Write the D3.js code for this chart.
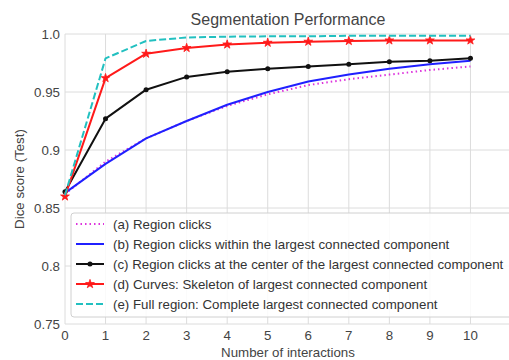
<!DOCTYPE html>
<html>
<head>
<meta charset="utf-8">
<script src="https://cdn.jsdelivr.net/npm/d3@7"></script>
<style>
  body { margin: 0; background: #fff; }
  svg { font-family: "Liberation Sans", Arial, sans-serif; }
</style>
</head>
<body>
<svg id="chart" width="509" height="360"></svg>
<script>
// interactions on the x axis
var interactions = [0, 1, 2, 3, 4, 5, 6, 7, 8, 9, 10];

// dice scores
var regionClicks    = [0.862, 0.890, 0.910, 0.925, 0.938, 0.948, 0.956, 0.961, 0.965, 0.969, 0.972];
var regionLargest   = [0.863, 0.888, 0.910, 0.925, 0.939, 0.950, 0.959, 0.965, 0.970, 0.974, 0.977];
var regionCenter    = [0.864, 0.927, 0.952, 0.963, 0.9675, 0.970, 0.972, 0.974, 0.976, 0.977, 0.979];
var curvesSkeleton  = [0.860, 0.962, 0.983, 0.988, 0.991, 0.9925, 0.9934, 0.994, 0.9945, 0.9945, 0.9945];
var fullRegion      = [0.861, 0.979, 0.994, 0.997, 0.9977, 0.998, 0.998, 0.9985, 0.9985, 0.9985, 0.9985];

var xTicks = [0, 1, 2, 3, 4, 5, 6, 7, 8, 9, 10];
var yTicks = [0.75, 0.8, 0.85, 0.9, 0.95, 1.0];
var yTickLabels = ['0.75', '0.8', '0.85', '0.9', '0.95', '1.0'];

var seriesNames = [
  '(a) Region clicks',
  '(b) Region clicks within the largest connected component',
  '(c) Region clicks at the center of the largest connected component',
  '(d) Curves: Skeleton of largest connected component',
  '(e) Full region: Complete largest connected component'
];

var series = [
  {name: seriesNames[0], values: regionClicks,   color: '#dd33dd', dash: '1.5,3', width: 2, marker: null},
  {name: seriesNames[1], values: regionLargest,  color: '#2020ff', dash: null,    width: 2, marker: null},
  {name: seriesNames[2], values: regionCenter,   color: '#111111', dash: null,    width: 2, marker: 'dot'},
  {name: seriesNames[3], values: curvesSkeleton, color: '#ff1a1a', dash: null,    width: 2, marker: 'star'},
  {name: seriesNames[4], values: fullRegion,     color: '#22c0c0', dash: '7,3',   width: 2, marker: null}
];

var svg = d3.select('#chart');
var margin = {left: 65, right: -2, top: 34, bottom: 36};
var W = 509, H = 360;

var x = d3.scaleLinear().domain([0, 11]).range([margin.left, W - margin.right]);
var y = d3.scaleLinear().domain([0.75, 1.0]).range([H - margin.bottom, margin.top]);

var textColor = '#444';
var gridColor = '#dcdcdc';
var fs = '13.3px';

// grid
svg.append('g').selectAll('line.gx')
  .data(xTicks).enter().append('line')
  .attr('x1', function(d) { return x(d); }).attr('x2', function(d) { return x(d); })
  .attr('y1', y(0.75)).attr('y2', y(1.0))
  .attr('stroke', gridColor).attr('stroke-width', 1);

svg.append('g').selectAll('line.gy')
  .data(yTicks).enter().append('line')
  .attr('x1', x(0)).attr('x2', x(11))
  .attr('y1', function(d) { return y(d); }).attr('y2', function(d) { return y(d); })
  .attr('stroke', gridColor).attr('stroke-width', 1);

// tick labels
svg.append('g').selectAll('text')
  .data(xTicks).enter().append('text')
  .attr('x', function(d) { return x(d); })
  .attr('y', y(0.75) + 16)
  .attr('text-anchor', 'middle')
  .attr('font-size', fs)
  .attr('fill', textColor)
  .text(function(d) { return d; });

svg.append('g').selectAll('text')
  .data(yTicks).enter().append('text')
  .attr('x', x(0) - 5)
  .attr('y', function(d) { return y(d) + 5; })
  .attr('text-anchor', 'end')
  .attr('font-size', fs)
  .attr('fill', textColor)
  .text(function(d, i) { return yTickLabels[i]; });

// title and axis labels
svg.append('text')
  .attr('x', (x(0) + x(11)) / 2).attr('y', 25)
  .attr('text-anchor', 'middle')
  .attr('font-size', '16px')
  .attr('fill', textColor)
  .text('Segmentation Performance');

svg.append('text')
  .attr('x', (x(0) + x(11)) / 2).attr('y', 357)
  .attr('text-anchor', 'middle')
  .attr('font-size', fs)
  .attr('fill', textColor)
  .text('Number of interactions');

svg.append('text')
  .attr('transform', 'translate(24,' + ((y(0.75) + y(1.0)) / 2) + ') rotate(-90)')
  .attr('text-anchor', 'middle')
  .attr('font-size', fs)
  .attr('fill', textColor)
  .text('Dice score (Test)');

// lines
var line = d3.line()
  .x(function(d, i) { return x(interactions[i]); })
  .y(function(d) { return y(d); });

var star = d3.symbol().type(d3.symbolStar).size(24);
var dot = d3.symbol().type(d3.symbolCircle).size(20);

function drawMarker(g, kind, color) {
  if (kind === 'star') {
    g.append('path').attr('d', star()).attr('fill', color).attr('stroke', color).attr('stroke-width', 0.8);
  } else if (kind === 'dot') {
    g.append('path').attr('d', dot()).attr('fill', color);
  }
}

series.forEach(function(s) {
  svg.append('path')
    .datum(s.values)
    .attr('d', line)
    .attr('fill', 'none')
    .attr('stroke', s.color)
    .attr('stroke-width', s.width)
    .attr('stroke-dasharray', s.dash)
    .attr('stroke-linejoin', 'round');

  if (s.marker) {
    s.values.forEach(function(v, i) {
      var g = svg.append('g').attr('transform', 'translate(' + x(interactions[i]) + ',' + y(v) + ')');
      drawMarker(g, s.marker, s.color);
    });
  }
});

// legend
var legend = svg.append('g').attr('transform', 'translate(71,213)');
legend.append('rect')
  .attr('x', 0).attr('y', 0)
  .attr('width', 442).attr('height', 104)
  .attr('rx', 3)
  .attr('fill', 'rgba(255,255,255,0.85)')
  .attr('stroke', '#d0d0d0');

series.forEach(function(s, i) {
  var ly = 11 + i * 20;
  legend.append('line')
    .attr('x1', 5).attr('x2', 33)
    .attr('y1', ly).attr('y2', ly)
    .attr('stroke', s.color)
    .attr('stroke-width', s.width)
    .attr('stroke-dasharray', s.dash);
  if (s.marker) {
    var g = legend.append('g').attr('transform', 'translate(19,' + ly + ')');
    drawMarker(g, s.marker, s.color);
  }
  legend.append('text')
    .attr('x', 42).attr('y', ly + 5)
    .attr('font-size', fs)
    .attr('fill', '#333')
    .text(s.name);
});
</script>
</body>
</html>
